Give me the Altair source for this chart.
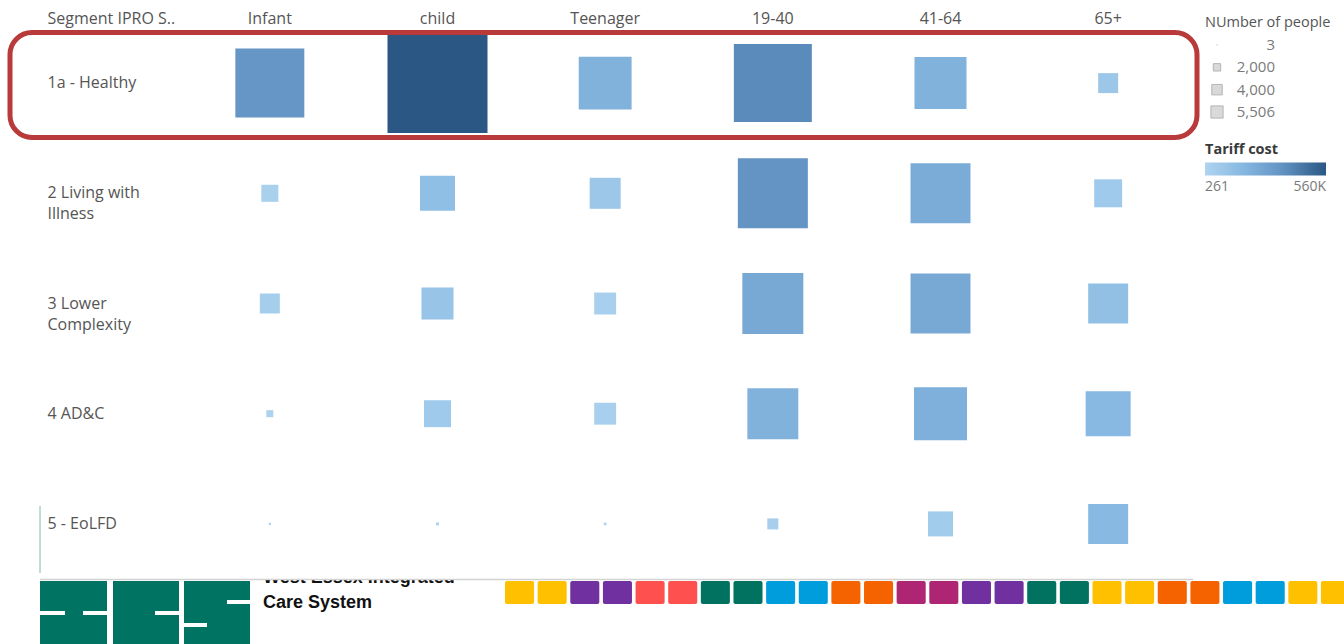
import altair as alt
import pandas as pd

FONT = "Open Sans"

# ---------------- data ----------------
segments = ["1a - Healthy", "2 Living with Illness", "3 Lower Complexity", "4 AD&C", "5 - EoLFD"]
ages = ["Infant", "child", "Teenager", "19-40", "41-64", "65+"]

people_1a = [2620, 5506, 1540, 3350, 1490, 220]
people_2 = [160, 675, 530, 2700, 1980, 430]
people_3 = [220, 565, 265, 2050, 1980, 880]
people_4 = [27, 400, 265, 1430, 1550, 1115]
people_5 = [3, 5, 4, 67, 345, 880]

tariff_1a = [342000, 560000, 207000, 387000, 207000, 80000]
tariff_2 = [22000, 133000, 80000, 348000, 237000, 62000]
tariff_3 = [40000, 98000, 27000, 247000, 247000, 124000]
tariff_4 = [15000, 62000, 27000, 207000, 217000, 169000]
tariff_5 = [261, 1200, 600, 30000, 53000, 169000]

legend_people = [3, 2000, 4000, 5506]
tariff_range = [261, 560000]

band_groups = ["yellow", "purple", "red", "green", "blue", "orange", "magenta",
               "purple", "green", "yellow", "orange", "blue", "yellow"]
band_names = ["yellow", "purple", "red", "green", "blue", "orange", "magenta"]
band_palette = ["#ffc000", "#7030a0", "#ff5050", "#00725f", "#009ddc", "#f46300", "#ae2573"]

people = [people_1a, people_2, people_3, people_4, people_5]
tariff = [tariff_1a, tariff_2, tariff_3, tariff_4, tariff_5]

rows = []
for s, pr, tr in zip(segments, people, tariff):
    for a, p, t in zip(ages, pr, tr):
        rows.append({"segment": s, "age": a, "people": p, "tariff": t})
df = pd.DataFrame(rows)

band_df = pd.DataFrame({
    "i": list(range(len(band_groups) * 2)),
    "grp": [g for g in band_groups for _ in range(2)],
})
leg_df = pd.DataFrame({"lv": legend_people})
one = pd.DataFrame({"k": [0]})

# ---------------- main heat-square chart ----------------
label_expr = (
    "datum.value == '2 Living with Illness' ? ['2 Living with', 'Illness'] : "
    "datum.value == '3 Lower Complexity' ? ['3 Lower', 'Complexity'] : datum.label"
)

squares = alt.Chart(df).mark_square(filled=True, opacity=1).encode(
    x=alt.X("age:N", sort=ages,
            scale=alt.Scale(type="band", paddingInner=0, paddingOuter=0),
            axis=alt.Axis(orient="top", title=None, labelAngle=0, ticks=False, tickSize=0,
                          domain=False, grid=False, labelFontSize=16, labelColor="#555",
                          labelFont=FONT, labelPadding=2)),
    y=alt.Y("segment:N", sort=segments,
            scale=alt.Scale(type="band", paddingInner=0, paddingOuter=0),
            axis=alt.Axis(title="Segment IPRO S..", titleAngle=0, titleAlign="left",
                          titleBaseline="middle", titleX=-139, titleY=-10, titleFontSize=16,
                          titleFontWeight="normal", titleColor="#555", titleFont=FONT,
                          labelAlign="left", labelBaseline="middle", labelPadding=139,
                          ticks=False, tickSize=0, domain=False, grid=False,
                          labelFontSize=16, labelColor="#555", labelFont=FONT,
                          labelLimit=220, labelLineHeight=21, labelExpr=label_expr)),
    size=alt.Size("people:Q", scale=alt.Scale(domain=[0, 5506], range=[0, 10000]), legend=None),
    color=alt.Color("tariff:Q",
                    scale=alt.Scale(domain=tariff_range,
                                    range=["#aed4f0", "#84b6e0", "#5f8fbf", "#2a5783"],
                                    interpolate="rgb"),
                    legend=alt.Legend(orient="none", legendX=1019, legendY=115,
                                      direction="horizontal", title="Tariff cost",
                                      titleFontSize=14.5, titleColor="#3a3a3a",
                                      titleFont=FONT, titleFontWeight="bold", titlePadding=5,
                                      gradientLength=121, gradientThickness=13,
                                      gradientStrokeWidth=0, values=tariff_range,
                                      labelFontSize=14, labelColor="#7a7a7a", labelFont=FONT,
                                      labelOffset=4,
                                      labelExpr="datum.value >= 1000 ? format(datum.value/1000, 'd') + 'K' : format(datum.value, 'd')")),
)

highlight = alt.Chart(one).mark_rect(fillOpacity=0, stroke="#b93a3a", strokeWidth=5,
                                     cornerRadius=22).encode(
    x=alt.value(-176), x2=alt.value(1011), y=alt.value(4.5), y2=alt.value(109.5)
)

main = alt.layer(squares, highlight)

# ---------------- size legend ----------------
leg_y = alt.Y("lv:O", sort=legend_people,
              scale=alt.Scale(type="point", range=[17, 84], padding=0), axis=None)
leg_sym = alt.Chart(leg_df).mark_square(filled=True, fill="#d9d9d9", stroke="#b5b5b5",
                                        strokeWidth=1, opacity=1).encode(
    x=alt.value(1031), y=leg_y,
    size=alt.Size("lv:Q", scale=alt.Scale(domain=[0, 5506], range=[0, 150]), legend=None),
)
leg_txt = alt.Chart(leg_df).mark_text(align="right", baseline="middle", fontSize=15,
                                      color="#7a7a7a", font=FONT).encode(
    x=alt.value(1089), y=leg_y, text=alt.Text("lv:Q", format=","),
)
leg_title = alt.Chart(pd.DataFrame({"t": ["NUmber of people"]})).mark_text(
    align="left", baseline="middle", fontSize=14.5, color="#555", font=FONT).encode(
    x=alt.value(1019), y=alt.value(-5), text="t:N")
size_legend = alt.layer(leg_sym, leg_txt, leg_title)

# ---------------- footer (slide decoration) ----------------
band = alt.Chart(band_df).mark_rect(cornerRadius=2).encode(
    x=alt.X("i:O", scale=alt.Scale(type="band", range=[319, 1164], paddingInner=0.11,
                                   paddingOuter=0), axis=None),
    y=alt.value(553), y2=alt.value(576),
    fill=alt.Fill("grp:N", scale=alt.Scale(domain=band_names, range=band_palette), legend=None),
)

def box(x, x2, y, y2, color):
    return alt.Chart(one).mark_rect(color=color).encode(
        x=alt.value(x), x2=alt.value(x2), y=alt.value(y), y2=alt.value(y2))

GREEN = "#007362"
logo = [
    box(-146, -79, 553, 620, GREEN),
    box(-73, -7, 553, 620, GREEN),
    box(-2, 64, 553, 620, GREEN),
    box(-146, -121, 583, 587, "white"),
    box(-103, -79, 583, 587, "white"),
    box(-31, -7, 583, 587, "white"),
    box(41, 64, 572, 576, "white"),
    box(-2, 21, 595, 599, "white"),
]

ics_top = alt.Chart(pd.DataFrame({"t": ["West Essex Integrated"]})).mark_text(
    align="left", baseline="alphabetic", fontSize=18, fontWeight="bold",
    font="Liberation Sans", color="#111").encode(x=alt.value(77), y=alt.value(555), text="t:N")
cover = box(70, 300, 520, 552, "white")
ics_bottom = alt.Chart(pd.DataFrame({"t": ["Care System"]})).mark_text(
    align="left", baseline="alphabetic", fontSize=18, fontWeight="bold",
    font="Liberation Sans", color="#111").encode(x=alt.value(77), y=alt.value(580), text="t:N")

gray_rule = alt.Chart(one).mark_rule(color="#d3d3d3", strokeWidth=1.5).encode(
    x=alt.value(-146), x2=alt.value(1007), y=alt.value(551.5))
teal_rule = alt.Chart(one).mark_rule(color="#7fb8b0", strokeWidth=1).encode(
    x=alt.value(-146), y=alt.value(478), y2=alt.value(545))

footer = alt.layer(band, *logo, ics_top, cover, ics_bottom, gray_rule, teal_rule)

chart = alt.layer(main, size_legend, footer).resolve_scale(
    x="independent", y="independent", size="independent"
).properties(
    width=1006, height=551,
    padding={"left": 186, "top": 28, "right": 152, "bottom": 65},
    autosize=alt.AutoSizeParams(type="none"),
    background="white",
).configure_view(stroke=None)

chart.save("out.html", embed_options={"renderer": "svg", "actions": False})
